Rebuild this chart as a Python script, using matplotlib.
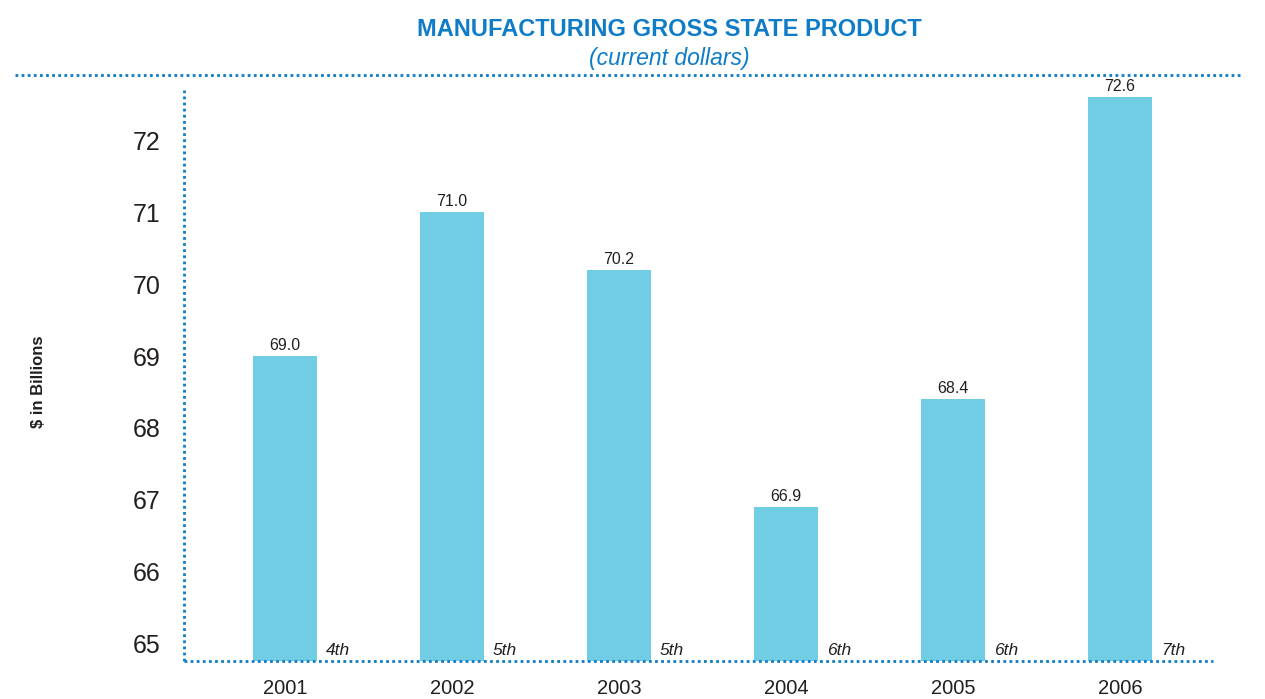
import matplotlib
matplotlib.use("Agg")
import matplotlib.pyplot as plt
import matplotlib.transforms as mtransforms

# Manufacturing gross state product, billions of current dollars
years = ["2001", "2002", "2003", "2004", "2005", "2006"]
values = [69.0, 71.0, 70.2, 66.9, 68.4, 72.6]
ranks = ["4th", "5th", "5th", "6th", "6th", "7th"]
y_ticks = [65, 66, 67, 68, 69, 70, 71, 72]

BLUE = "#0e7cc6"
BAR = "#71cde3"
TEXT = "#231f20"
DOTS = (0, (1.0, 1.2))

plt.rcParams["font.family"] = ["Liberation Sans", "DejaVu Sans"]

fig = plt.figure(figsize=(12.65, 6.99), dpi=100)
ax = fig.add_axes([0.1455, 0.0544, 0.8134, 0.817])

x = list(range(len(years)))
bar_w = 0.38
ax.bar(x, values, width=bar_w, color=BAR, zorder=2)

ax.set_ylim(64.76, 72.70)
ax.set_xlim(-0.605, 5.557)
ax.set_yticks(y_ticks)
ax.set_yticklabels([str(t) for t in y_ticks], fontsize=18, color=TEXT)
ax.set_xticks(x)
ax.set_xticklabels(years, fontsize=14.5, color=TEXT)
ax.tick_params(axis="y", length=0, pad=17)
ax.tick_params(axis="x", length=0, pad=13)

for side in ("top", "right"):
    ax.spines[side].set_visible(False)
for side in ("left", "bottom"):
    sp = ax.spines[side]
    sp.set_color(BLUE)
    sp.set_linewidth(2.0)
    sp.set_linestyle(DOTS)
    sp.set_capstyle("butt")
    sp.set_zorder(3)

# Value labels above each bar
for xi, v in zip(x, values):
    ax.annotate(f"{v:.1f}", (xi, v), xytext=(0, 2), textcoords="offset points",
                ha="center", va="bottom", fontsize=11.5, color=TEXT)

# National ranking beside each bar
trans = mtransforms.blended_transform_factory(ax.transData, ax.transAxes)
for xi, r in zip(x, ranks):
    ax.text(xi + bar_w / 2 + 0.055, 0.006, r, transform=trans, ha="left",
            va="bottom", fontsize=12.5, style="italic", color=TEXT)

ax.set_ylabel("$ in Billions", fontsize=12, fontweight="bold", color=TEXT)
ax.yaxis.set_label_coords(-0.134, 0.489)

fig.text(0.529, 0.958, "MANUFACTURING GROSS STATE PRODUCT", ha="center",
         va="center", fontsize=17, fontweight="bold", color=BLUE)
fig.text(0.529, 0.917, "(current dollars)", ha="center", va="center",
         fontsize=16.5, style="italic", color=BLUE)

# Dotted rule under the heading
fig.add_artist(plt.Line2D([0.012, 0.983], [0.893, 0.893], transform=fig.transFigure,
                          color=BLUE, linewidth=2.0, linestyle=DOTS,
                          dash_capstyle="butt"))

fig.savefig("out.png", dpi=100, facecolor="white")
